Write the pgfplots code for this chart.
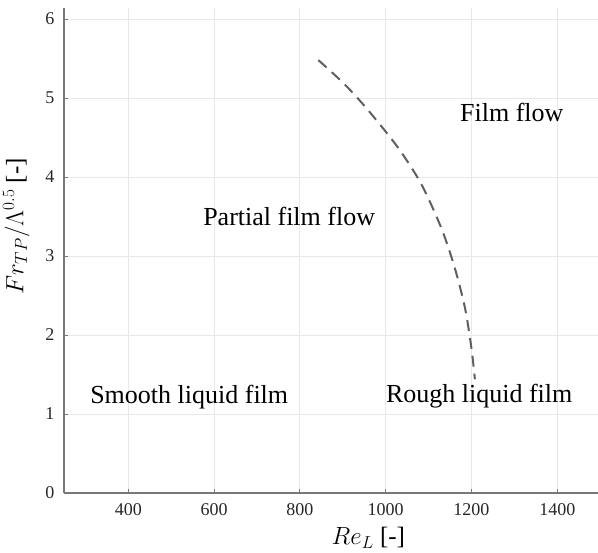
\documentclass[border=0pt]{standalone}
\usepackage{pgfplots}
\pgfplotsset{compat=1.18}
\usepackage{fontspec}
\setmainfont{Liberation Serif}

\definecolor{axisgray}{RGB}{120,120,120}
\definecolor{gridgray}{RGB}{232,232,232}
\definecolor{curvegray}{RGB}{95,95,95}

% Transition boundary between partial film flow and film flow
\pgfplotstableread{
x     y
843   5.48
905   5.17
960   4.84
1029  4.37
1083  3.91
1130  3.35
1161  2.85
1185  2.34
1200  1.83
1208  1.44
}\boundary

\begin{document}
\begin{tikzpicture}
\begin{axis}[
  scale only axis,
  width=534pt, height=485pt,
  xmin=250, xmax=1495,
  ymin=0, ymax=6.14,
  axis x line=bottom, axis y line=left,
  axis line style={axisgray, line width=1.3pt, -},
  xtick={400,600,...,1400},
  ytick={0,1,...,6},
  tick align=inside,
  major tick length=4pt,
  tick style={axisgray, line width=1pt},
  grid=major,
  major grid style={gridgray, line width=1pt},
  /pgf/number format/assume math mode=true,
  /pgf/number format/1000 sep={},
  ticklabel style={font=\fontsize{18}{20}\selectfont, text=black!85},
  xticklabel style={yshift=-7pt},
  yticklabel style={xshift=-6pt},
  xlabel={$Re_L$ [-]},
  ylabel={$Fr_{TP}/\Lambda^{0.5}$ [-]},
  label style={font=\fontsize{25}{27}\selectfont},
  xlabel style={at={(axis description cs:0.57,0)}, anchor=north, yshift=-31pt},
  ylabel style={at={(axis description cs:0,0.55)}, anchor=south, yshift=31pt},
  clip=false,
]
\addplot[curvegray, line width=2pt, dash pattern=on 11pt off 7pt, smooth] table[x=x, y=y] {\boundary};

\node[font=\fontsize{26}{30}\selectfont] at (axis cs:1294,4.82) {Film flow};
\node[font=\fontsize{26}{30}\selectfont] at (axis cs:775,3.5) {Partial film flow};
\node[font=\fontsize{26}{30}\selectfont] at (axis cs:542,1.22) {Smooth liquid film};
\node[font=\fontsize{26}{30}\selectfont] at (axis cs:1218,1.22) {Rough liquid film};
\end{axis}
\pgfresetboundingbox
\path[use as bounding box] (-64pt,-60pt) rectangle (534pt,493pt);
\end{tikzpicture}
\end{document}
